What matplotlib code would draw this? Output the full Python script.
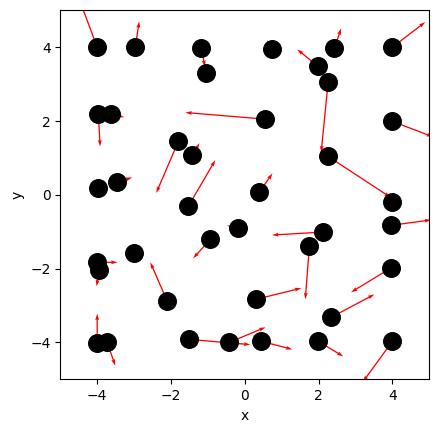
import matplotlib
matplotlib.use("Agg")
import matplotlib.pyplot as plt
import numpy as np

x = [-4.0, -2.97, -1.18, -1.04, 0.75, 2.43, 4.0, 1.99, 2.26,
     -3.97, -3.62, 0.56, 4.0, -1.80, -1.42, 2.26, -3.97, -3.45, 0.39,
     4.0, -1.53, 3.95, -0.18, 2.12, -0.93, 1.75, -2.99, -4.0, -3.94,
     3.95, -2.10, 0.31, 2.34, -4.0, -3.73, -1.50, -0.42, 0.45, 1.99, 4.0]
y = [4.0, 4.0, 3.97, 3.30, 3.94, 3.97, 4.0, 3.48, 3.07,
     2.18, 2.20, 2.05, 1.99, 1.45, 1.07, 1.04, 0.18, 0.34, 0.07,
     -0.20, -0.31, -0.83, -0.91, -1.01, -1.21, -1.39, -1.59, -1.83, -2.05,
     -1.99, -2.89, -2.83, -3.32, -4.02, -4.0, -3.92, -4.0, -3.97, -3.97, -3.97]
u = [-0.45, 0.11, 0.10, 0.0, -0.15, 0.18, 0.89, -0.57, -0.19,
     0.05, 0.35, -2.17, 1.10, -0.60, 0.19, 1.69, 0.0, 0.40, 0.36,
     0.0, 0.73, 1.10, -0.30, -1.38, -0.47, -0.11, 0.0, 0.55, -0.08,
     -1.07, -0.46, 1.22, 1.17, 0.0, 0.22, 1.65, 0.98, 0.84, 0.68, -0.80]
v = [1.20, 0.70, -0.50, 0.0, 0.25, 0.54, 0.68, 0.46, -1.92,
     -0.87, -0.10, 0.18, -0.42, -1.40, 0.33, -1.11, 0.0, 0.13, 0.51,
     0.0, 1.25, 0.15, 0.08, -0.08, -0.51, -1.44, 0.0, 0.0, -0.43,
     -0.65, 1.06, 0.30, 0.62, 0.80, -0.63, -0.14, 0.41, -0.22, -0.41, -1.10]

fig = plt.figure(figsize=(4.39, 4.32), dpi=100)
ax = fig.add_axes([60.3/439, (432-379.3)/432, 369/439, 369/432])
ax.quiver(x, y, u, v, color='red', angles='xy', scale_units='xy', scale=1,
          width=0.0035, zorder=1)
ax.scatter(x, y, s=160, color='black', zorder=2)
ax.set_xlim(-5, 5)
ax.set_ylim(-5, 5)
ax.set_xticks([-4, -2, 0, 2, 4])
ax.set_yticks([-4, -2, 0, 2, 4])
ax.set_xlabel('x')
ax.set_ylabel('y')
fig.savefig('out.png', dpi=100)
